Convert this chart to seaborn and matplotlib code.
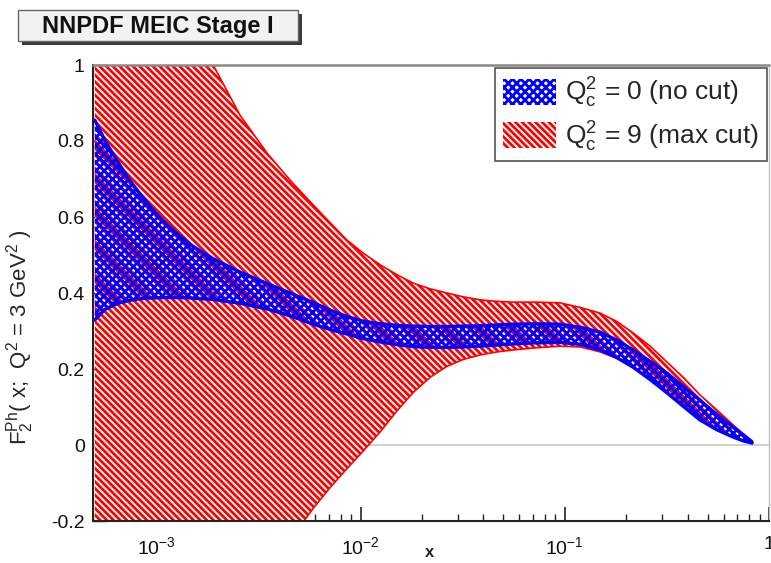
import numpy as np
import pandas as pd
import matplotlib
matplotlib.use("Agg")
import matplotlib.pyplot as plt
import seaborn as sns
from matplotlib.patches import Patch, Rectangle
from matplotlib.ticker import FixedLocator, FixedFormatter, MultipleLocator

# ---------------- data ----------------
x_vals = [5.0e-4, 5.62e-4, 6.44e-4, 7.29e-4, 8.34e-4, 9.53e-4, 1.08e-3, 1.27e-3,
          1.47e-3, 1.90e-3, 2.57e-3, 3.49e-3, 4.52e-3, 5.86e-3, 7.10e-3, 8.59e-3,
          1.03e-2, 1.25e-2, 1.51e-2, 1.81e-2, 2.19e-2, 2.65e-2, 3.18e-2, 3.85e-2,
          4.66e-2, 5.58e-2, 7.31e-2, 9.49e-2, 0.119, 0.149, 0.180, 0.216, 0.262,
          0.317, 0.384, 0.459, 0.556, 0.667, 0.746, 0.826]

# Q_c^2 = 9 (max cut)  -- red band
red_upper = [1.82, 1.72, 1.62, 1.53, 1.44, 1.36, 1.29, 1.20, 1.125, 1.00,
             0.868, 0.768, 0.697, 0.632, 0.585, 0.539, 0.505, 0.474, 0.448,
             0.426, 0.411, 0.400, 0.390, 0.382, 0.378, 0.376, 0.376, 0.374,
             0.362, 0.347, 0.325, 0.295, 0.260, 0.218, 0.176, 0.132, 0.092,
             0.053, 0.030, 0.011]
red_lower = [-1.30, -1.20, -1.10, -1.00, -0.92, -0.84, -0.77, -0.68, -0.61,
             -0.50, -0.41, -0.33, -0.25, -0.167, -0.112, -0.062, -0.016, 0.035,
             0.090, 0.138, 0.178, 0.207, 0.225, 0.237, 0.245, 0.250, 0.256,
             0.260, 0.258, 0.245, 0.228, 0.203, 0.172, 0.137, 0.100, 0.066,
             0.040, 0.021, 0.011, 0.005]

# Q_c^2 = 0 (no cut)  -- blue band
blue_upper = [0.855, 0.800, 0.748, 0.702, 0.660, 0.622, 0.590, 0.555, 0.527,
              0.490, 0.455, 0.425, 0.400, 0.375, 0.355, 0.338, 0.326, 0.319,
              0.315, 0.313, 0.312, 0.312, 0.313, 0.314, 0.316, 0.318, 0.319,
              0.318, 0.310, 0.297, 0.276, 0.250, 0.220, 0.189, 0.152, 0.118,
              0.080, 0.047, 0.027, 0.008]
blue_lower = [0.329, 0.357, 0.372, 0.380, 0.385, 0.387, 0.388, 0.388, 0.387,
              0.383, 0.373, 0.358, 0.340, 0.318, 0.304, 0.292, 0.280, 0.271,
              0.264, 0.259, 0.257, 0.257, 0.258, 0.260, 0.263, 0.266, 0.269,
              0.270, 0.265, 0.250, 0.230, 0.205, 0.172, 0.137, 0.100, 0.066,
              0.040, 0.021, 0.011, 0.005]

labels = [r"Q$_{\mathrm{c}}^{2}$ = 0 (no cut)", r"Q$_{\mathrm{c}}^{2}$ = 9 (max cut)"]
xtick_pos = [1e-3, 1e-2, 1e-1, 1.0]
xtick_lab = [r"10$^{-3}$", r"10$^{-2}$", r"10$^{-1}$", "1"]
title_text = "NNPDF MEIC Stage I"

# ---------------- style ----------------
sns.set_theme(style="ticks")
plt.rcParams["font.family"] = ["Liberation Sans", "DejaVu Sans"]
plt.rcParams["mathtext.fontset"] = "custom"
plt.rcParams["mathtext.rm"] = "Liberation Sans"
plt.rcParams["mathtext.it"] = "Liberation Sans:italic"
plt.rcParams["mathtext.bf"] = "Liberation Sans:bold"
plt.rcParams["hatch.linewidth"] = 2.0

RED = "#ff0000"
BLUE = "#0000ff"
RED_HATCH = "\\" * 5
BLUE_HATCH = "x" * 4

df = pd.DataFrame({"x": x_vals, "red_up": red_upper, "red_lo": red_lower,
                   "blue_up": blue_upper, "blue_lo": blue_lower})

W, H = 771, 563
fig = plt.figure(figsize=(W / 100, H / 100), dpi=100)
ax = fig.add_axes([93 / W, 1 - 521 / H, (769 - 93) / W, (521 - 65) / H])

# red band
ax.fill_between(df["x"], df["red_lo"], df["red_up"], facecolor="white",
                edgecolor=RED, hatch=RED_HATCH, linewidth=0, zorder=2)
sns.lineplot(data=df, x="x", y="red_up", ax=ax, color=RED, lw=1.2, zorder=3)
sns.lineplot(data=df, x="x", y="red_lo", ax=ax, color=RED, lw=1.2, zorder=3)

# blue band (transparent between hatch lines, red shows through)
ax.fill_between(df["x"], df["blue_lo"], df["blue_up"], facecolor="none",
                edgecolor=BLUE, hatch=BLUE_HATCH, linewidth=0, zorder=4)
sns.lineplot(data=df, x="x", y="blue_up", ax=ax, color=BLUE, lw=2.4, zorder=5)
sns.lineplot(data=df, x="x", y="blue_lo", ax=ax, color=BLUE, lw=2.4, zorder=5)

# zero line
ax.axhline(0, color="#c8c8c8", lw=1.2, zorder=1)

ax.set_xscale("log")
ax.set_xlim(4.9e-4, 1.0)
ax.set_ylim(-0.2, 1.0)

ax.xaxis.set_major_locator(FixedLocator(xtick_pos))
ax.xaxis.set_major_formatter(FixedFormatter(xtick_lab))
ax.yaxis.set_major_locator(MultipleLocator(0.2))
ax.yaxis.set_minor_locator(MultipleLocator(0.04))
ax.yaxis.set_major_formatter(plt.FuncFormatter(lambda v, p: f"{v:g}" if abs(v) > 1e-9 else "0"))

ax.tick_params(axis="both", which="both", direction="in", top=False, right=False,
               colors="#222222", labelsize=14, labelcolor="#111111")
ax.tick_params(axis="x", which="major", length=10, width=1.2, pad=11)
ax.tick_params(axis="x", which="minor", length=5, width=1.0)
ax.tick_params(axis="y", which="major", length=10, width=1.0, pad=6)
ax.tick_params(axis="y", which="minor", length=0)

for s in ["left", "bottom"]:
    ax.spines[s].set_color("#222222")
    ax.spines[s].set_linewidth(1.5)
ax.spines["top"].set_color("#888888")
ax.spines["top"].set_linewidth(1.8)
ax.spines["right"].set_color("#c0c0c0")
ax.spines["right"].set_linewidth(1.0)
for s in ax.spines.values():
    s.set_zorder(6)

ax.set_xlabel("x", fontsize=12, fontweight="bold")
ax.xaxis.set_label_coords((430 - 93) / (769 - 93), -0.052)
ax.set_ylabel(r"F$_{2}^{\mathrm{Ph}}$( x;  Q$^{2}$ = 3 GeV$^{2}$ )", fontsize=16)
ax.yaxis.set_label_coords(-(93 - 36) / (769 - 93), (521 - 337) / 456)

# legend
handles = [Patch(facecolor="white", edgecolor=BLUE, hatch=BLUE_HATCH, linewidth=0),
           Patch(facecolor="white", edgecolor=RED, hatch=RED_HATCH, linewidth=0)]
leg = ax.legend(handles, labels, loc="upper right",
                bbox_to_anchor=((767 - 93) / 676, (521 - 68) / 456),
                fontsize=19, frameon=True, fancybox=False, framealpha=1,
                edgecolor="#555555", borderaxespad=0, handlelength=2.0,
                handleheight=1.15, handletextpad=0.35, labelspacing=0.35,
                borderpad=0.3)
leg.get_frame().set_linewidth(1.2)
leg.set_zorder(10)

# title box with shadow
fig.patches.append(Rectangle((22 / W, 1 - 45 / H), (298 - 18) / W, (41 - 10) / H,
                             transform=fig.transFigure, facecolor="#3a3a3a",
                             edgecolor="none", zorder=1))
fig.patches.append(Rectangle((18 / W, 1 - 41 / H), (298 - 18) / W, (41 - 10) / H,
                             transform=fig.transFigure, facecolor="#f2f2f2",
                             edgecolor="#666666", linewidth=1.0, zorder=2))
fig.text(158 / W, 1 - 26 / H, title_text, ha="center", va="center",
         fontsize=17, fontweight="bold", color="#111111", zorder=3)

fig.savefig("out.png", dpi=100)
